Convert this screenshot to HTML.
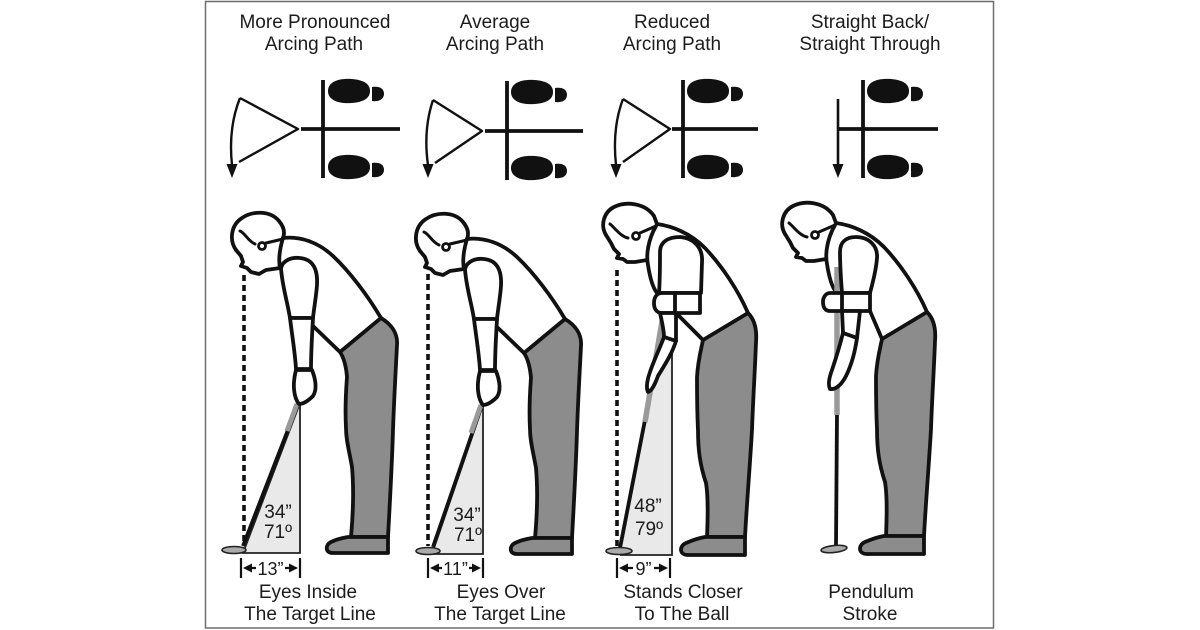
<!DOCTYPE html>
<html><head><meta charset="utf-8"><style>
html,body{margin:0;padding:0;background:#fff;}
svg{display:block;}
text{font-family:"Liberation Sans",Arial,sans-serif;fill:#1c1c1c;}
</style></head><body>
<svg width="1200" height="630" viewBox="0 0 1200 630" xmlns="http://www.w3.org/2000/svg">
<rect x="0" y="0" width="1200" height="630" fill="#fff"/>
<rect x="205.5" y="1.5" width="788" height="626.5" fill="none" stroke="#6e6e6e" stroke-width="1.5"/>
<defs>
 <g id="foot" fill="#111">
  <path d="M 0 12 C 0 3 10 -1 24 0 C 36 1 42 5 42 12 C 42 19 36 23 24 24 C 10 25 0 21 0 12 Z"/>
  <path d="M 44 8 C 51 7 56 9 56 15 C 56 20 51 23 44 22 Z"/>
 </g>
 <g id="b1" fill="none" stroke="#111" stroke-width="3.8" stroke-linejoin="round" stroke-linecap="round">
  <path fill="#8c8c8c" d="M 340 352 L 381 318 C 391 324 398 333 397 345 C 396 365 394 400 393 430 C 392 465 390 500 388 537 L 351 537 C 353 515 354 490 352 467 C 349 450 346 440 346 428 C 345 410 346 390 347 377 C 346 365 344 358 340 352 Z"/>
  <path fill="#8c8c8c" d="M 348 537 L 388 537 L 388 553 L 333 553 C 325 553 325 545 331 542 C 337 539 342 538 348 537 Z"/>
  <path d="M 283 238 C 300 236 318 242 333 256 C 350 272 368 296 381 318"/>
  <path d="M 313 326 L 340 352"/>
  <path d="M 283 238 C 280 248 278 258 280 268"/>
  <path d="M 236 250 C 229 240 231 225 242 218 C 252 211 270 210 279 221 C 284 227 285 233 283 238"/>
  <path d="M 236 250 L 241 256 L 243 262 L 241 266 L 247 268 L 251 272 L 259 274 L 266 270 L 280 268"/>
  <path stroke-width="3" d="M 240 231 C 245 233 248 241 255 244"/>
  <circle cx="262" cy="246" r="3.5" stroke-width="2.8"/>
  <path stroke-width="3" d="M 266 243 L 283 239"/>
  <path fill="#fff" d="M 281 268 C 283 260 292 257 300 258 C 312 259 318 268 317 285 C 316 298 314 308 313 318 L 290 318 C 287 300 282 285 281 268 Z"/>
  <path fill="#fff" d="M 290 318 L 313 318 C 312 335 311 352 311 369 L 296 369 C 295 352 292 335 290 318 Z"/>
  <path fill="#fff" d="M 296 370 L 312 370 C 316 380 317 390 313 396 C 309 400 304 404 299 404 C 294 398 292 385 296 370 Z"/>
 </g>
 <g id="b3" fill="none" stroke="#111" stroke-width="3.8" stroke-linejoin="round" stroke-linecap="round">
  <path fill="#8c8c8c" d="M 703 340 L 748 313 C 755 320 757 330 756 342 C 755 370 753 400 752 430 C 750 465 747 500 745 537 L 707 537 C 708 515 708 495 706 483 C 700 465 698 450 698 430 C 697 410 697 390 697 377 C 698 360 701 350 703 340 Z"/>
  <path fill="#8c8c8c" d="M 705 537 L 745 537 L 745 555 L 688 555 C 679 555 679 546 686 543 C 693 540 699 538 705 537 Z"/>
  <path d="M 657 224 C 672 226 690 233 705 248 C 722 266 738 290 748 313"/>
  <path d="M 606 235 C 600 225 604 212 614 207 C 626 201 645 203 654 216 L 657 224"/>
  <path d="M 606 235 L 611 243 L 614 249 L 619 254 L 617 258 L 623 259 L 627 262 L 635 262 L 647 260"/>
  <path stroke-width="3" d="M 610 224 C 615 228 620 236 628 238"/>
  <circle cx="636" cy="236" r="3.5" stroke-width="2.8"/>
  <path stroke-width="3" d="M 640 233 L 656 226"/>
  <path d="M 656 226 C 648 240 646 255 648 265 C 650 278 653 288 657 293"/>
 </g>
</defs>

<!-- Top labels -->
<g font-size="19" text-anchor="middle">
 <text x="315" y="28">More Pronounced</text>
 <text x="314" y="50">Arcing Path</text>
 <text x="495" y="28">Average</text>
 <text x="495" y="50">Arcing Path</text>
 <text x="672" y="28">Reduced</text>
 <text x="672" y="50">Arcing Path</text>
 <text x="870" y="28">Straight Back/</text>
 <text x="870" y="50">Straight Through</text>
</g>

<!-- Top diagrams -->
<g stroke="#111" fill="none">
 <g stroke-width="2.4" stroke-linejoin="round">
  <path d="M 240 98 L 298 129 L 239 162"/>
  <path d="M 240 98 Q 228 128 232 165 L 232 168"/>
  <path d="M 433 100 L 482 131 L 435 163"/>
  <path d="M 433 100 Q 423 130 428 165 L 428 168"/>
  <path d="M 623 99 L 670 129 L 623 162"/>
  <path d="M 623 99 Q 612 128 616 165 L 616 168"/>
  <path stroke-width="2.6" d="M 838 99 L 838 168"/>
 </g>
 <g stroke-width="3.8">
  <path d="M 301 129 L 400 129 M 323 80 L 323 178"/>
  <path d="M 485 131 L 583 131 M 507 81 L 507 180"/>
  <path d="M 672 129 L 758 129 M 683 80 L 683 178"/>
  <path d="M 838 129 L 938 129 M 863 80 L 863 178"/>
 </g>
</g>
<g fill="#111">
 <polygon points="226.5,164 237.5,164 232,178"/>
 <polygon points="422.5,164 433.5,164 428,178"/>
 <polygon points="610.5,164 621.5,164 616,178"/>
 <polygon points="832.5,164 843.5,164 838,178"/>
</g>
<use href="#foot" x="328" y="79"/>
<use href="#foot" x="328" y="155"/>
<use href="#foot" x="511" y="80"/>
<use href="#foot" x="511" y="156"/>
<use href="#foot" x="687" y="79"/>
<use href="#foot" x="687" y="155"/>
<use href="#foot" x="867" y="79"/>
<use href="#foot" x="867" y="155"/>

<!-- Figure 1 -->
<polygon points="300,403 300,553 243,553" fill="#e9e9e9" stroke="#222" stroke-width="1.8"/>
<line x1="298" y1="404" x2="243" y2="546" stroke="#111" stroke-width="3.8"/>
<line x1="297" y1="404" x2="287" y2="431" stroke="#9a9a9a" stroke-width="5"/>
<line x1="244" y1="275" x2="244" y2="545" stroke="#111" stroke-width="3.6" stroke-dasharray="6 4"/>
<ellipse cx="234" cy="550" rx="12" ry="3.5" fill="#aaa" stroke="#222" stroke-width="1.6"/>
<use href="#b1"/>

<!-- Figure 2 -->
<polygon points="483,405 483,554 432,554" fill="#e9e9e9" stroke="#222" stroke-width="1.8"/>
<line x1="482" y1="405" x2="433" y2="547" stroke="#111" stroke-width="3.8"/>
<line x1="481" y1="405" x2="471" y2="433" stroke="#9a9a9a" stroke-width="5"/>
<line x1="428" y1="274" x2="428" y2="546" stroke="#111" stroke-width="3.6" stroke-dasharray="6 4"/>
<ellipse cx="428" cy="551" rx="12" ry="3.5" fill="#aaa" stroke="#222" stroke-width="1.6"/>
<use href="#b1" transform="translate(184,1)"/>

<!-- Figure 3 -->
<polygon points="668,286 672,286 672,555 620,555" fill="#e9e9e9"/>
<path d="M 672 330 L 672 555 L 620 555" fill="none" stroke="#222" stroke-width="1.8"/>
<use href="#b3"/>
<line x1="617" y1="270" x2="617" y2="546" stroke="#111" stroke-width="3.6" stroke-dasharray="6 4"/>
<line x1="645" y1="420" x2="620" y2="548" stroke="#111" stroke-width="3.8"/>
<line x1="668" y1="286" x2="645" y2="422" stroke="#9a9a9a" stroke-width="5.5"/>
<ellipse cx="619" cy="551" rx="13" ry="3.5" fill="#aaa" stroke="#222" stroke-width="1.6"/>
<g fill="#fff" stroke="#111" stroke-width="3.8" stroke-linejoin="round" stroke-linecap="round">
 <path d="M 676 313 L 703 340" fill="none"/>
 <path d="M 660 252 C 660 242 668 237 680 237 C 694 238 703 248 702 262 L 701 293 L 659 293 C 660 280 660 265 660 252 Z"/>
 <path d="M 662 293 L 700 293 L 700 313 L 662 313 C 656 313 654 308 654 303 C 654 297 657 293 662 293 Z"/>
 <path d="M 675 293 L 675 313" fill="none"/>
 <path d="M 660 313 C 662 322 664 330 664 337 L 676 341 C 676 332 676 322 676 313 Z"/>
 <path d="M 664 337 C 660 348 654 360 650 372 C 647 380 646 388 648 392 C 652 391 655 384 658 376 C 664 366 672 354 676 341 Z"/>
</g>

<!-- Figure 4 -->
<use href="#b3" transform="translate(179,-1)"/>
<line x1="837" y1="413" x2="836" y2="546" stroke="#111" stroke-width="3.8"/>
<line x1="837" y1="267" x2="837" y2="415" stroke="#9a9a9a" stroke-width="5.5"/>
<ellipse cx="834" cy="549" rx="13" ry="3.5" fill="#aaa" stroke="#222" stroke-width="1.6" transform="rotate(-6 834 549)"/>
<g fill="#fff" stroke="#111" stroke-width="3.8" stroke-linejoin="round" stroke-linecap="round">
 <path d="M 870 311 L 882 339" fill="none"/>
 <path d="M 840 252 C 840 242 846 237 856 237 C 868 237 878 245 877 258 C 876 272 872 285 870 293 L 842 293 C 841 280 840 265 840 252 Z"/>
 <path d="M 830 293 L 870 293 L 870 311 L 830 311 C 825 311 823 307 823 302 C 823 297 826 293 830 293 Z"/>
 <path d="M 842 293 L 842 311" fill="none"/>
 <path d="M 842 311 L 843 333 L 857 338 L 860 311 Z"/>
 <path d="M 843 333 C 840 345 836 358 832 370 C 829 378 828 385 830 389 C 836 390 842 384 846 376 C 851 366 855 352 857 338 Z"/>
</g>

<!-- Measurements -->
<g font-size="19" text-anchor="middle">
 <text x="278" y="518">34”</text>
 <text x="278" y="538">71º</text>
 <text x="467" y="521">34”</text>
 <text x="468" y="541">71º</text>
 <text x="648" y="512">48”</text>
 <text x="649" y="535">79º</text>
</g>

<!-- Dimension lines -->
<g stroke="#111" stroke-width="2.2" fill="none">
 <path d="M 241 558 L 241 578 M 300 558 L 300 578 M 251 568 L 256 568 M 285 568 L 290 568"/>
 <path d="M 428 558 L 428 578 M 483 558 L 483 578 M 438 568 L 442 568 M 469 568 L 473 568"/>
 <path d="M 617 558 L 617 578 M 670 558 L 670 578 M 627 568 L 633 568 M 654 568 L 660 568"/>
</g>
<g fill="#111">
 <polygon points="243,568 252,563.5 252,572.5"/>
 <polygon points="298,568 289,563.5 289,572.5"/>
 <polygon points="430,568 439,563.5 439,572.5"/>
 <polygon points="481,568 472,563.5 472,572.5"/>
 <polygon points="619,568 628,563.5 628,572.5"/>
 <polygon points="668,568 659,563.5 659,572.5"/>
</g>
<g font-size="18" text-anchor="middle">
 <text x="270.5" y="575">13”</text>
 <text x="455.5" y="575">11”</text>
 <text x="643.5" y="575">9”</text>
</g>

<!-- Captions -->
<g font-size="19" text-anchor="middle">
 <text x="308" y="598">Eyes Inside</text>
 <text x="310" y="620">The Target Line</text>
 <text x="501" y="598">Eyes Over</text>
 <text x="500" y="620">The Target Line</text>
 <text x="683" y="598">Stands Closer</text>
 <text x="682" y="620">To The Ball</text>
 <text x="871" y="598">Pendulum</text>
 <text x="870" y="620">Stroke</text>
</g>
</svg>
</body></html>
